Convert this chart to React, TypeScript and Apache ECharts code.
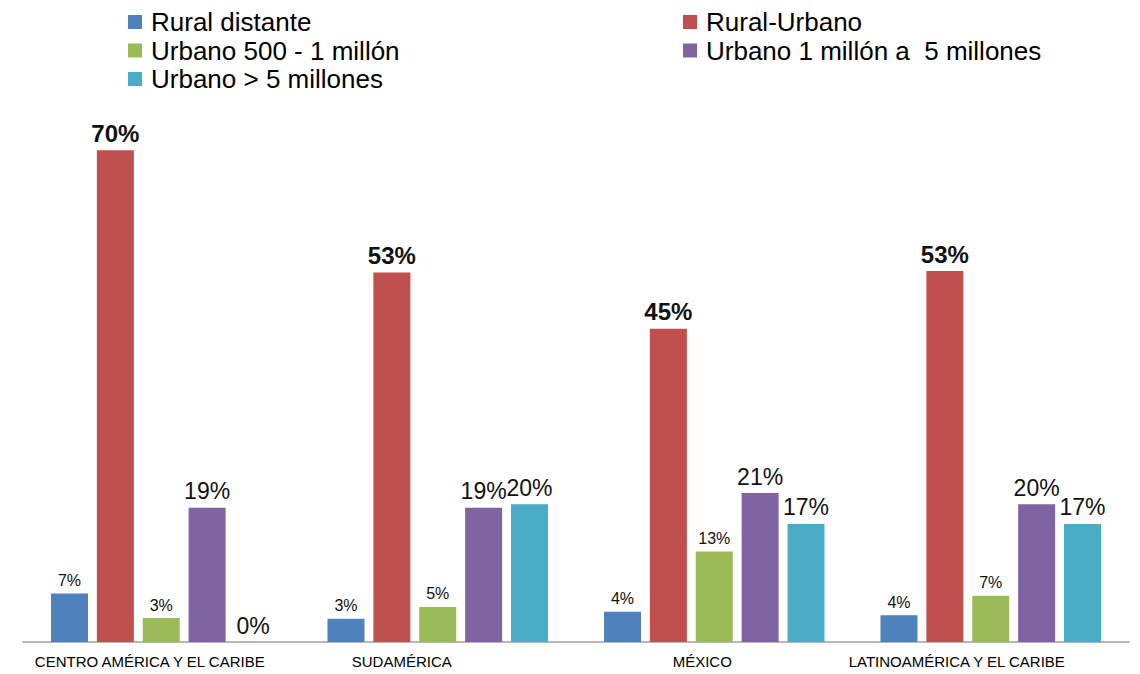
import React, { useEffect, useRef } from "react";
import * as echarts from "echarts";

const categories = [
  "CENTRO AMÉRICA Y EL CARIBE",
  "SUDAMÉRICA",
  "MÉXICO",
  "LATINOAMÉRICA Y EL CARIBE",
];
const seriesNames = [
  "Rural distante",
  "Rural-Urbano",
  "Urbano 500 - 1 millón",
  "Urbano 1 millón a  5 millones",
  "Urbano > 5 millones",
];
const ruralDistante = [6.9, 3.3, 4.3, 3.8];
const ruralUrbano = [70, 52.6, 44.6, 52.8];
const urbano500 = [3.4, 5.0, 12.9, 6.6];
const urbano1a5 = [19.1, 19.1, 21.2, 19.6];
const urbanoMas5 = [0, 19.6, 16.8, 16.8];

const colors = ["#4F81BD", "#C0504D", "#9BBB59", "#8064A2", "#4BACC6"];
const FONT = "'Liberation Sans', Arial, sans-serif";

export default function App() {
  const ref = useRef<HTMLDivElement>(null);
  useEffect(() => {
    if (!ref.current) return;
    const chart = echarts.init(ref.current, null, { renderer: "svg" });
    const values = [ruralDistante, ruralUrbano, urbano500, urbano1a5, urbanoMas5];
    const labelStyles = [
      { fontSize: 16, fontWeight: "normal" },
      { fontSize: 24, fontWeight: "bold" },
      { fontSize: 16, fontWeight: "normal" },
      { fontSize: 23, fontWeight: "normal" },
      { fontSize: 23, fontWeight: "normal" },
    ];
    const legendText = { fontSize: 26, color: "#000", fontFamily: FONT, lineHeight: 28 };
    const catLabelRich = {
      s0: { fontSize: 15, color: "#000", fontFamily: FONT, padding: [0, 23, 0, 0] },
      s1: { fontSize: 15, color: "#000", fontFamily: FONT, padding: [0, 72, 0, 0] },
      s2: { fontSize: 15, color: "#000", fontFamily: FONT, padding: [0, 24, 0, 0] },
      s3: { fontSize: 15, color: "#000", fontFamily: FONT, padding: [0, 68, 0, 0] },
    };
    chart.setOption({
      animation: false,
      textStyle: { fontFamily: FONT },
      legend: [
        {
          data: [seriesNames[0], seriesNames[2], seriesNames[4]],
          orient: "vertical",
          left: 123,
          top: 3,
          icon: "rect",
          itemWidth: 14,
          itemHeight: 14,
          itemGap: 0.5,
          textStyle: { ...legendText, padding: [0, 0, 0, 4] },
        },
        {
          data: [seriesNames[1], seriesNames[3]],
          orient: "vertical",
          left: 678,
          top: 3,
          icon: "rect",
          itemWidth: 14,
          itemHeight: 14,
          itemGap: 0.5,
          textStyle: { ...legendText, padding: [0, 0, 0, 4] },
        },
      ],
      grid: { left: 23, right: 11, top: 80, bottom: 32, containLabel: false },
      xAxis: {
        type: "category",
        data: categories,
        axisTick: { show: false },
        axisLine: { lineStyle: { color: "#A0A0A0", width: 1.5 } },
        axisLabel: {
          fontSize: 15,
          color: "#000",
          margin: 12,
          fontFamily: FONT,
          interval: 0,
          formatter: (v: string, i: number) => `{s${i}|${v}}`,
          rich: catLabelRich,
        },
      },
      yAxis: {
        type: "value",
        min: 0,
        max: 80,
        show: false,
        splitLine: { show: false },
      },
      series: values.map((v, i) => ({
        name: seriesNames[i],
        type: "bar",
        data: v,
        barWidth: 37,
        barGap: "24%",
        itemStyle: { color: colors[i] },
        label: {
          show: true,
          position: "top",
          distance: 5,
          color: "#111",
          fontFamily: FONT,
          ...labelStyles[i],
          formatter: (p: any) => Math.round(p.value) + "%",
        },
      })),
    });
    return () => chart.dispose();
  }, []);
  return (
    <div
      ref={ref}
      style={{ position: "absolute", left: 0, top: 0, width: 1140, height: 674, background: "#fff" }}
    />
  );
}
